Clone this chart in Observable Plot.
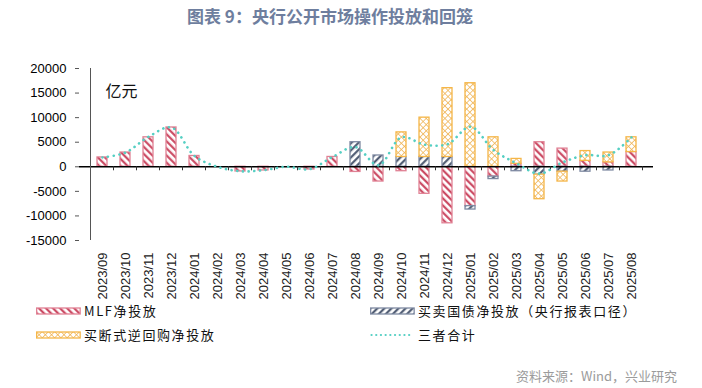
<!DOCTYPE html>
<html>
<head>
<meta charset="utf-8">
<script src="https://cdn.jsdelivr.net/npm/d3@7"></script>
<script src="https://cdn.jsdelivr.net/npm/@observablehq/plot@0.6"></script>
<style>
  html, body { margin: 0; padding: 0; background: #fff; }
  body { width: 702px; height: 388px; position: relative; overflow: hidden; font-family: "Noto Sans CJK SC", "Noto Sans", sans-serif; }
  #title { position: absolute; left: 187px; top: 4px; font-size: 17px; font-weight: bold; color: #6E7E9E; white-space: nowrap; line-height: 24px; }
  #chart { position: absolute; left: 0; top: 40px; }
  .leg { position: absolute; height: 20px; display: flex; align-items: center; font-size: 13px; letter-spacing: 1.6px; color: #111; white-space: nowrap; }
  .leg svg { display: block; margin-right: 3px; }
  #source { position: absolute; right: 25px; top: 366px; font-size: 13px; color: #9B9B9B; line-height: 20px; white-space: nowrap; }
</style>
</head>
<body>
<svg width="0" height="0" style="position:absolute">
  <defs>
    <pattern id="pat-mlf" patternUnits="userSpaceOnUse" width="5" height="5" patternTransform="rotate(-45)">
      <rect width="5" height="5" fill="#fff"/>
      <line x1="1.2" y1="0" x2="1.2" y2="5" stroke="#C8405A" stroke-width="2.1"/>
    </pattern>
    <pattern id="pat-tb" patternUnits="userSpaceOnUse" width="5" height="5" patternTransform="rotate(45)">
      <rect width="5" height="5" fill="#fff"/>
      <line x1="1.2" y1="0" x2="1.2" y2="5" stroke="#46536B" stroke-width="2.1"/>
    </pattern>
    <pattern id="pat-rr" patternUnits="userSpaceOnUse" width="4.4" height="4.4" patternTransform="rotate(45)">
      <rect width="4.4" height="4.4" fill="#fff"/>
      <path d="M0,0.4H4.4M0.4,0V4.4" stroke="#F0B455" stroke-width="0.8" fill="none"/>
    </pattern>
  </defs>
</svg>
<div id="title">图表 9：央行公开市场操作投放和回笼</div>
<div id="chart"></div>
<div id="legend"></div>
<div id="source">资料来源：Wind，兴业研究</div>
<script>
// ---- data ----
const months = ["2023/09","2023/10","2023/11","2023/12","2024/01","2024/02","2024/03","2024/04","2024/05","2024/06","2024/07","2024/08","2024/09","2024/10","2024/11","2024/12","2025/01","2025/02","2025/03","2025/04","2025/05","2025/06","2025/07","2025/08"];
const mlfNet      = [1900, 2900, 6000, 8000, 2200, 0, -950, -750, 0, -550, 2000, -1050, -3000, -900, -5500, -11500, -8000, -2000, 600, 5000, 3700, 1200, 900, 3000];
const treasuryNet = [0, 0, 0, 0, 0, 0, 0, 0, 0, 0, 0, 5000, 2300, 2000, 2000, 2000, -700, -500, -900, -1600, -1000, -1000, -750, 0];
const outrightNet = [0, 0, 0, 0, 0, 0, 0, 0, 0, 0, 0, 0, 0, 5000, 8000, 14000, 17000, 6000, 1000, -5000, -2000, 2000, 2000, 3000];
const totalNet    = [1900, 2900, 6100, 8000, 2200, 0, -900, -700, 0, -500, 2000, 4000, 300, 6000, 4500, 4600, 8150, 3400, 700, -1400, 900, 2350, 2350, 6000];
const seriesNames = ["MLF净投放", "买卖国债净投放（央行报表口径）", "买断式逆回购净投放"];
const lineName = "三者合计";
const yTicks = [-15000, -10000, -5000, 0, 5000, 10000, 15000, 20000];
const unitLabel = "亿元";

// ---- styles ----
const fills = {"MLF净投放": "url(#pat-mlf)", "买卖国债净投放（央行报表口径）": "url(#pat-tb)", "买断式逆回购净投放": "url(#pat-rr)"};
const strokes = {"MLF净投放": "#E08194", "买卖国债净投放（央行报表口径）": "#7F8AA2", "买断式逆回购净投放": "#F5B648"};
const lineColor = "#55CFC3";

const seriesValues = [mlfNet, treasuryNet, outrightNet];
const rows = [];
months.forEach((m, i) => {
  seriesNames.forEach((s, k) => {
    const v = seriesValues[k][i];
    if (v !== 0) rows.push({month: m, series: s, value: v});
  });
});
const lineRows = months.map((m, i) => ({month: m, value: totalNet[i]}));

const boundaryTicks = (index, scales) => {
  const x = scales.x, y = scales.y;
  const bw = x.bandwidth(), off = (x.step() - bw) / 2;
  const g = d3.create("svg:g");
  const y0 = y(0);
  months.forEach(m => {
    const xb = x(m) + bw + off;
    g.append("line").attr("x1", xb).attr("x2", xb).attr("y1", y0).attr("y2", y0 + 4)
      .attr("stroke", "#333").attr("stroke-width", 1);
  });
  const xl = x(months[0]) - off;
  g.append("line").attr("x1", xl).attr("x2", xl)
    .attr("y1", y(yTicks[yTicks.length - 1])).attr("y2", y(yTicks[0]))
    .attr("stroke", "#555").attr("stroke-width", 1);
  return g.node();
};

const chart = Plot.plot({
  width: 702,
  height: 260,
  marginLeft: 79,
  marginRight: 49,
  marginTop: 28,
  marginBottom: 60,
  style: {fontFamily: "'Liberation Sans', Arial, sans-serif", fontSize: "13px", color: "#000", background: "transparent"},
  x: {domain: months, paddingInner: 0.58, paddingOuter: 0.29},
  y: {domain: [yTicks[0], yTicks[yTicks.length - 1]]},
  marks: [
    Plot.axisY({ticks: yTicks, tickFormat: d => String(d), tickSize: 4, tickPadding: 9, fontSize: 13, label: null, stroke: "#555"}),
    Plot.axisX({tickRotate: -90, tickSize: 0, tickPadding: 12, fontSize: 13, label: null, fill: "#222"}),
    Plot.barY(rows, Plot.stackY({
      x: "month", y: "value",
      fill: d => fills[d.series],
      stroke: d => strokes[d.series],
      strokeWidth: 1.3
    })),
    Plot.ruleY([0], {stroke: "#000", strokeWidth: 1.6}),
    boundaryTicks,
    Plot.line(lineRows, {
      x: "month", y: "value", curve: "catmull-rom",
      stroke: lineColor, strokeWidth: 2.6, strokeDasharray: "0.1 5.6", strokeLinecap: "round"
    }),
    Plot.text([unitLabel], {
      text: d => d, frameAnchor: "top-left", dx: 26, dy: 17, textAnchor: "start",
      fontSize: 16, fontFamily: "'Noto Sans CJK SC', sans-serif", fill: "#111"
    })
  ]
});
document.getElementById("chart").appendChild(chart);

// ---- legend ----
const legend = document.getElementById("legend");
const legendItems = [
  {name: seriesNames[0], left: 36, center: 310.5, kind: "bar"},
  {name: seriesNames[1], left: 370, center: 310.5, kind: "bar"},
  {name: seriesNames[2], left: 36, center: 334.5, kind: "bar"},
  {name: lineName, left: 370, center: 334.5, kind: "line"}
];
legendItems.forEach(it => {
  const div = document.createElement("div");
  div.className = "leg";
  div.style.left = it.left + "px";
  div.style.top = (it.center - 10) + "px";
  let sw;
  if (it.kind === "bar") {
    sw = `<svg width="45" height="8"><rect x="0.65" y="1" width="43.5" height="6" fill="${fills[it.name]}" stroke="${strokes[it.name]}" stroke-width="1.3"/></svg>`;
  } else {
    sw = `<svg width="45" height="8"><line x1="1.5" x2="43" y1="4" y2="4" stroke="${lineColor}" stroke-width="2.2" stroke-dasharray="0.1 4.6" stroke-linecap="round"/></svg>`;
  }
  div.innerHTML = sw + `<span>${it.name}</span>`;
  legend.appendChild(div);
});
</script>
</body>
</html>
